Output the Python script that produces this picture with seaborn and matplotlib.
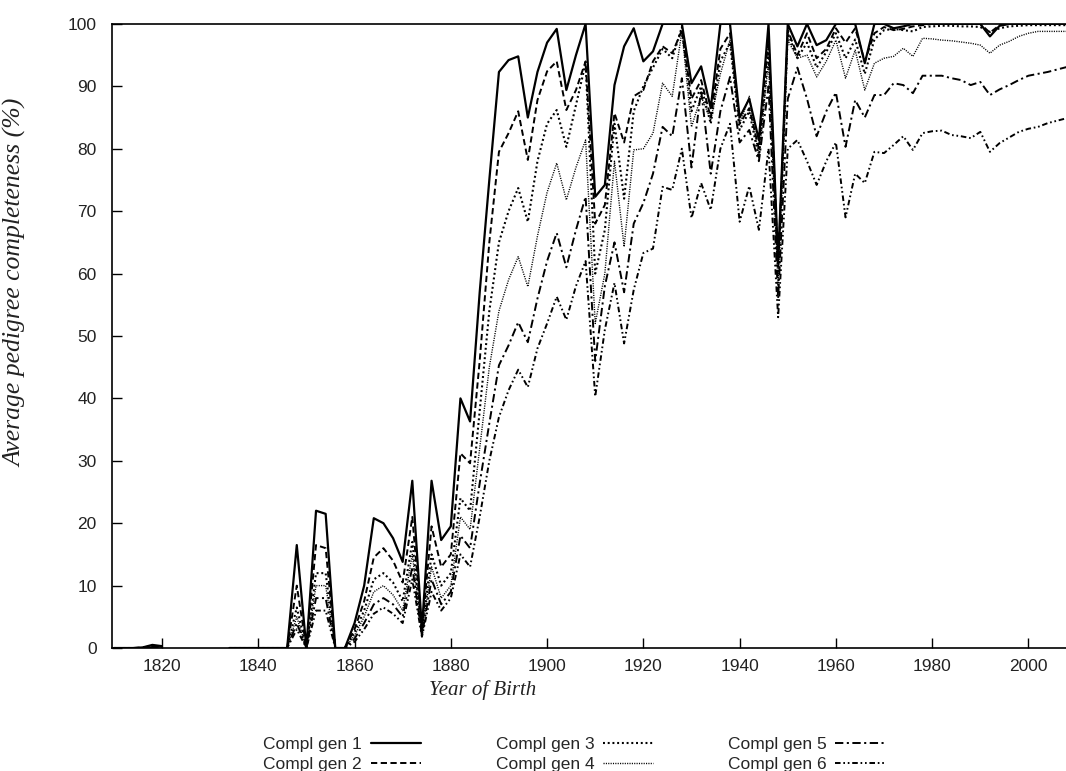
import numpy as np
import pandas as pd
import matplotlib
matplotlib.use("Agg")
import matplotlib.pyplot as plt
import seaborn as sns
from matplotlib.lines import Line2D

# ---------------- data ----------------
EARLY_YEARS = [1810, 1812, 1814, 1816, 1818, 1820]
YEARS = list(range(1834, 2009, 2))  # 1834 ... 2008, two-year steps

LABELS = ["Compl gen 1", "Compl gen 2", "Compl gen 3",
          "Compl gen 4", "Compl gen 5", "Compl gen 6"]

early_gen1 = [0, 0, 0, 0.1, 0.5, 0.3]
early_gen2 = [0, 0, 0, 0.1, 0.3, 0.2]
early_gen3 = [0, 0, 0, 0, 0.2, 0.1]
early_gen4 = [0, 0, 0, 0, 0.2, 0.1]
early_gen5 = [0, 0, 0, 0, 0.1, 0.1]
early_gen6 = [0, 0, 0, 0, 0.1, 0.1]

gen1 = [0, 0, 0, 0, 0, 0, 0,                                   # 1834-1846
        16.5, 0, 22, 21.5, 0, 0, 4, 10, 20.8, 20,              # 1848-1866
        17.6, 13.8, 26.8, 3, 26.8, 17.3, 19.5, 40, 36.3, 57,   # 1868-1886
        75, 92.3, 94.2, 94.8, 85, 92.3, 97, 99.2, 89.4, 95,    # 1888-1906
        100, 72.3, 74.2, 90.2, 96.4, 99.3, 94, 95.6, 100, 100, # 1908-1926
        100, 90.5, 93.2, 86.5, 100, 100, 85, 88, 81.4, 100,    # 1928-1946
        62, 100, 96.4, 100, 96.6, 97.4, 100, 100, 100, 93.7,   # 1948-1966
        100, 100, 99.3, 99.6, 100, 100, 100, 100, 100, 100,    # 1968-1986
        100, 100, 98, 99.7, 100, 100, 100, 100, 100, 100,      # 1988-2006
        100]                                                   # 2008

gen2 = [0, 0, 0, 0, 0, 0, 0,
        10, 0, 16.5, 16, 0, 0, 3, 7.5, 14.5, 16,
        14, 10.5, 21, 2.8, 19.5, 13, 15, 31.2, 29.6, 46,
        65, 79.5, 82.5, 86, 78.2, 87.8, 92.4, 94, 86.2, 89.4,
        94, 68, 71, 85.7, 81, 88.4, 89.4, 94, 96.4, 95.3,
        99, 88, 91, 85, 96, 98.5, 84, 86.5, 80, 98,
        61, 99, 95, 98.5, 94.5, 96, 99.3, 97, 99.3, 94,
        98.5, 99.5, 99, 99.2, 99.6, 99.8, 100, 100, 100, 100,
        100, 100, 98.6, 99.8, 100, 100, 100, 100, 100, 100,
        100]

gen3 = [0, 0, 0, 0, 0, 0, 0,
        6.5, 0, 12, 12, 0, 0, 2.5, 6, 11, 12,
        10.5, 7.5, 17, 2.5, 15, 10, 12, 24, 22, 38,
        54, 65, 70, 73.7, 68.3, 78, 84, 86.2, 80.3, 87,
        93.7, 60, 67, 84, 72, 86, 90, 93, 96, 94.5,
        99.5, 86, 90, 84, 94, 97, 83, 86, 78.5, 96,
        60, 98.5, 94.5, 97, 93, 95.5, 98.5, 94.5, 97.5, 92,
        97.5, 99, 99.2, 99, 98.8, 99.5, 99.6, 99.7, 99.7, 99.6,
        99.6, 99.5, 98.7, 99.3, 99.6, 99.7, 99.8, 99.8, 99.8, 99.8,
        99.8]

gen4 = [0, 0, 0, 0, 0, 0, 0,
        5, 0, 10, 10, 0, 0, 2, 5, 9, 10,
        8.5, 6, 15, 2.2, 13, 8, 10, 21, 19, 32,
        45, 54, 59, 62.7, 57.9, 66, 73, 77.7, 71.8, 77,
        81.4, 52, 60, 78, 64.3, 79.8, 80, 82.5, 90.5, 88.4,
        98.8, 83.5, 88.4, 84.6, 92, 97.4, 84, 88.4, 78.7, 94,
        58, 97.4, 94.5, 95, 91.5, 94, 97.4, 91.3, 95.8, 89.4,
        93.7, 94.5, 94.8, 96.1, 94.8, 97.7, 97.6, 97.4, 97.3, 97.1,
        96.9, 96.6, 95.3, 96.6, 97.2, 98, 98.5, 98.8, 98.8, 98.8,
        98.8]

gen5 = [0, 0, 0, 0, 0, 0, 0,
        4, 0, 8, 8, 0, 0, 1.5, 4, 7, 8,
        7, 5, 13, 2, 11, 7, 9, 18, 16, 26.4,
        36, 45.3, 48.5, 52.2, 49, 56, 62, 66.5, 61, 67,
        72.3, 46, 58, 65, 57, 68, 71.3, 76, 83.5, 82,
        91.3, 77, 89.4, 76, 86, 91.5, 81, 83, 78, 90,
        56, 88, 93, 88, 82, 86, 89, 80.3, 87.8, 85,
        88.6, 88.6, 90.5, 90.2, 88.9, 91.7, 91.7, 91.7, 91.3, 91,
        90.2, 90.7, 88.6, 89.5, 90.2, 91, 91.7, 92, 92.3, 92.7,
        93.1]

gen6 = [0, 0, 0, 0, 0, 0, 0,
        3, 0, 6, 6, 0, 0, 1, 3, 5.5, 6.5,
        5.5, 4, 11, 1.8, 9, 6, 8, 15, 13, 21,
        30, 37, 41.3, 44.6, 41.8, 48, 52, 56.3, 52.6, 58,
        62, 40.3, 51, 58.5, 48.8, 57.4, 63.3, 64, 73.9, 73.4,
        80, 68.9, 74.5, 70.2, 80, 84, 68.3, 74, 67, 80,
        53, 80, 81.4, 78, 74.2, 78, 81, 69, 76, 74.5,
        79.5, 79.3, 80.6, 82, 79.8, 82.5, 82.8, 82.9, 82.2, 82,
        81.7, 82.7, 79.5, 80.9, 81.8, 82.7, 83.2, 83.5, 84.1, 84.5,
        84.9]

X_TICKS = [1820, 1840, 1860, 1880, 1900, 1920, 1940, 1960, 1980, 2000]
Y_TICKS = [0, 10, 20, 30, 40, 50, 60, 70, 80, 90, 100]

# ---------------- styling ----------------
sns.set_style("ticks")
plt.rcParams["font.family"] = ["Liberation Sans", "DejaVu Sans"]
plt.rcParams["lines.scale_dashes"] = False

STYLES = [
    dict(linestyle="-", lw=1.6),
    dict(linestyle=(0, (4.5, 2.5)), lw=1.4),
    dict(linestyle=(0, (1.4, 2.0)), lw=1.5),
    dict(linestyle=(0, (0.8, 0.9)), lw=1.0),
    dict(linestyle=(0, (6.0, 2.5, 1.5, 2.5)), lw=1.4),
    dict(linestyle=(0, (4.0, 2.0, 1.2, 2.0, 1.2, 2.0)), lw=1.4),
]

main_series = [gen1, gen2, gen3, gen4, gen5, gen6]
early_series = [early_gen1, early_gen2, early_gen3, early_gen4, early_gen5, early_gen6]

fig = plt.figure(figsize=(10.66, 7.71), dpi=100)
ax = fig.add_axes([0.105, 0.1595, 0.895, 0.8095])

for label, early, main, st in zip(LABELS, early_series, main_series, STYLES):
    df = pd.DataFrame({
        "year": EARLY_YEARS + YEARS,
        "value": early + main,
        "seg": [0] * len(EARLY_YEARS) + [1] * len(YEARS),
    })
    sns.lineplot(data=df, x="year", y="value", units="seg", estimator=None,
                 color="black", ax=ax, legend=False, **st)

ax.set_xlim(1809.6, 2007.8)
ax.set_ylim(0, 100)
ax.set_xticks(X_TICKS)
ax.set_yticks(Y_TICKS)
ax.tick_params(axis="both", direction="in", length=7, width=1.0,
               labelsize=12.5, colors="black", labelcolor="#222222")
ax.tick_params(axis="x", pad=8)
ax.tick_params(axis="y", pad=11)

for side in ["left", "bottom", "top"]:
    ax.spines[side].set_linewidth(1.2)
    ax.spines[side].set_color("black")
ax.spines["right"].set_visible(False)

ax.set_xlabel("Year of Birth", family="Liberation Serif", style="italic",
              fontsize=15, color="#222222")
ax.set_ylabel("Average pedigree completeness (%)", family="Liberation Serif",
              style="italic", fontsize=18.5, color="#222222")
ax.xaxis.set_label_coords(0.389, -0.052)
ax.yaxis.set_label_coords(-0.089, 0.585)

handles = [Line2D([0], [0], color="black", **st) for st in STYLES]
fig.legend(handles, LABELS, loc="center", bbox_to_anchor=(0.539, 0.0215),
           ncol=3, frameon=False, fontsize=12.5, markerfirst=False,
           handlelength=2.9, handletextpad=0.5, columnspacing=4.3,
           labelspacing=0.25, borderpad=0.0)

fig.savefig("out.png", dpi=100)
